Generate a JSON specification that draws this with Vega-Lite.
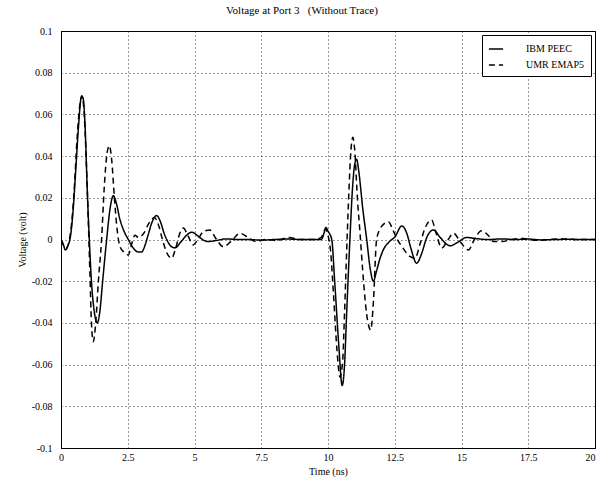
{
  "$schema": "https://vega.github.io/schema/vega-lite/v6.json",
  "width": 534,
  "height": 417,
  "autosize": {"type": "none"},
  "padding": {"left": 61, "top": 31, "right": 3, "bottom": 30},
  "background": "white",
  "title": {"text": "Voltage at Port 3\u00a0\u00a0\u00a0(Without Trace)", "font": "Liberation Serif", "fontSize": 11, "fontWeight": "normal", "color": "black", "offset": 10, "dx": -26},
  "datasets": {
    "peec": [
      {"t": 0, "v": 0}, {"t": 0.08, "v": -0.002}, {"t": 0.16, "v": -0.005}, {"t": 0.26, "v": -0.003}, {"t": 0.36, "v": 0.002},
      {"t": 0.46, "v": 0.015}, {"t": 0.56, "v": 0.035}, {"t": 0.66, "v": 0.055}, {"t": 0.76, "v": 0.068}, {"t": 0.82, "v": 0.068},
      {"t": 0.9, "v": 0.055}, {"t": 0.98, "v": 0.025}, {"t": 1.06, "v": 0}, {"t": 1.14, "v": -0.02}, {"t": 1.24, "v": -0.034},
      {"t": 1.36, "v": -0.04}, {"t": 1.46, "v": -0.034}, {"t": 1.56, "v": -0.02}, {"t": 1.71, "v": 0}, {"t": 1.84, "v": 0.015},
      {"t": 1.96, "v": 0.021}, {"t": 2.08, "v": 0.017}, {"t": 2.2, "v": 0.01}, {"t": 2.36, "v": 0.004}, {"t": 2.52, "v": 0},
      {"t": 2.7, "v": -0.004}, {"t": 2.9, "v": -0.006}, {"t": 3.02, "v": -0.006}, {"t": 3.14, "v": -0.003}, {"t": 3.26, "v": 0.002},
      {"t": 3.4, "v": 0.008}, {"t": 3.58, "v": 0.0115}, {"t": 3.74, "v": 0.008}, {"t": 3.86, "v": 0.003}, {"t": 3.96, "v": 0},
      {"t": 4.1, "v": -0.003}, {"t": 4.27, "v": -0.004}, {"t": 4.5, "v": -0.001}, {"t": 4.7, "v": 0.002}, {"t": 4.9, "v": 0.0035},
      {"t": 5.1, "v": 0.002}, {"t": 5.3, "v": 0}, {"t": 5.5, "v": -0.001}, {"t": 5.8, "v": -0.0005}, {"t": 6.2, "v": 0.0003},
      {"t": 6.6, "v": 0}, {"t": 7.0, "v": 0}, {"t": 7.5, "v": -0.0003}, {"t": 8, "v": 0}, {"t": 8.5, "v": 0.0002},
      {"t": 9, "v": 0}, {"t": 9.5, "v": 0}, {"t": 9.75, "v": 0}, {"t": 9.85, "v": 0.003}, {"t": 9.92, "v": 0.0058},
      {"t": 10.0, "v": 0.004}, {"t": 10.14, "v": 0}, {"t": 10.25, "v": -0.02}, {"t": 10.4, "v": -0.05}, {"t": 10.53, "v": -0.07},
      {"t": 10.62, "v": -0.06}, {"t": 10.7, "v": -0.035}, {"t": 10.82, "v": 0}, {"t": 10.92, "v": 0.025}, {"t": 11.0, "v": 0.036},
      {"t": 11.07, "v": 0.0385}, {"t": 11.15, "v": 0.033}, {"t": 11.3, "v": 0.015}, {"t": 11.45, "v": 0}, {"t": 11.58, "v": -0.014},
      {"t": 11.7, "v": -0.02}, {"t": 11.82, "v": -0.015}, {"t": 11.95, "v": -0.009}, {"t": 12.07, "v": -0.005}, {"t": 12.3, "v": -0.001},
      {"t": 12.51, "v": 0.0013}, {"t": 12.76, "v": 0.0065}, {"t": 12.95, "v": 0.003}, {"t": 13.1, "v": -0.004}, {"t": 13.32, "v": -0.0114},
      {"t": 13.5, "v": -0.007}, {"t": 13.7, "v": 0.001}, {"t": 13.95, "v": 0.0046}, {"t": 14.2, "v": 0.001}, {"t": 14.57, "v": -0.003},
      {"t": 14.9, "v": -0.001}, {"t": 15.19, "v": 0.001}, {"t": 15.5, "v": 0.0005}, {"t": 16, "v": 0}, {"t": 16.5, "v": 0.0003},
      {"t": 17, "v": 0}, {"t": 17.5, "v": 0.0002}, {"t": 18, "v": -0.0002}, {"t": 18.5, "v": 0}, {"t": 19, "v": 0.0001},
      {"t": 19.5, "v": 0}, {"t": 20, "v": 0}
    ],
    "emap": [
      {"t": 0, "v": 0}, {"t": 0.1, "v": -0.003}, {"t": 0.2, "v": -0.004}, {"t": 0.3, "v": -0.001}, {"t": 0.4, "v": 0.008},
      {"t": 0.5, "v": 0.025}, {"t": 0.6, "v": 0.048}, {"t": 0.7, "v": 0.064}, {"t": 0.78, "v": 0.069}, {"t": 0.86, "v": 0.062},
      {"t": 0.94, "v": 0.04}, {"t": 1.02, "v": 0.01}, {"t": 1.08, "v": -0.015}, {"t": 1.14, "v": -0.04}, {"t": 1.21, "v": -0.049},
      {"t": 1.3, "v": -0.04}, {"t": 1.4, "v": -0.02}, {"t": 1.52, "v": 0}, {"t": 1.62, "v": 0.025}, {"t": 1.72, "v": 0.041},
      {"t": 1.81, "v": 0.045}, {"t": 1.9, "v": 0.038}, {"t": 2.0, "v": 0.02}, {"t": 2.1, "v": 0.005}, {"t": 2.2, "v": -0.003},
      {"t": 2.35, "v": -0.006}, {"t": 2.52, "v": -0.0074}, {"t": 2.65, "v": -0.002}, {"t": 2.77, "v": 0.002}, {"t": 2.9, "v": 0.001},
      {"t": 3.1, "v": 0.003}, {"t": 3.3, "v": 0.008}, {"t": 3.5, "v": 0.0105}, {"t": 3.65, "v": 0.007}, {"t": 3.8, "v": 0},
      {"t": 3.95, "v": -0.006}, {"t": 4.14, "v": -0.009}, {"t": 4.3, "v": -0.004}, {"t": 4.45, "v": 0.003}, {"t": 4.58, "v": 0.0055},
      {"t": 4.75, "v": 0.002}, {"t": 4.95, "v": -0.0026}, {"t": 5.15, "v": 0.0005}, {"t": 5.35, "v": 0.004}, {"t": 5.58, "v": 0.0045},
      {"t": 5.8, "v": 0.0005}, {"t": 6.08, "v": -0.0035}, {"t": 6.4, "v": -0.0005}, {"t": 6.7, "v": 0.003}, {"t": 7.0, "v": 0.001},
      {"t": 7.3, "v": -0.001}, {"t": 7.7, "v": 0}, {"t": 8.1, "v": -0.0005}, {"t": 8.5, "v": 0.001}, {"t": 9.0, "v": 0},
      {"t": 9.5, "v": 0}, {"t": 9.75, "v": 0.001}, {"t": 9.85, "v": 0.004}, {"t": 9.92, "v": 0.005}, {"t": 10.0, "v": 0.002},
      {"t": 10.1, "v": -0.006}, {"t": 10.2, "v": -0.025}, {"t": 10.33, "v": -0.052}, {"t": 10.45, "v": -0.066}, {"t": 10.55, "v": -0.058},
      {"t": 10.62, "v": -0.035}, {"t": 10.7, "v": -0.005}, {"t": 10.78, "v": 0.022}, {"t": 10.86, "v": 0.043}, {"t": 10.93, "v": 0.049},
      {"t": 11.0, "v": 0.043}, {"t": 11.1, "v": 0.02}, {"t": 11.2, "v": 0.003}, {"t": 11.3, "v": -0.015}, {"t": 11.45, "v": -0.036},
      {"t": 11.6, "v": -0.0434}, {"t": 11.7, "v": -0.03}, {"t": 11.82, "v": 0}, {"t": 11.95, "v": 0.005}, {"t": 12.1, "v": 0.0075},
      {"t": 12.26, "v": 0.0085}, {"t": 12.45, "v": 0.004}, {"t": 12.6, "v": 0}, {"t": 12.8, "v": -0.004}, {"t": 13.05, "v": -0.008},
      {"t": 13.26, "v": -0.009}, {"t": 13.45, "v": -0.002}, {"t": 13.65, "v": 0.006}, {"t": 13.88, "v": 0.0094}, {"t": 14.05, "v": 0.003},
      {"t": 14.26, "v": -0.0041}, {"t": 14.5, "v": 0}, {"t": 14.7, "v": 0.003}, {"t": 14.95, "v": -0.001}, {"t": 15.26, "v": -0.005},
      {"t": 15.5, "v": 0.0005}, {"t": 15.75, "v": 0.0042}, {"t": 16.0, "v": 0.002}, {"t": 16.2, "v": -0.001}, {"t": 16.5, "v": -0.001},
      {"t": 16.9, "v": 0}, {"t": 17.3, "v": 0.0005}, {"t": 17.8, "v": -0.0004}, {"t": 18.3, "v": 0}, {"t": 18.8, "v": 0.0003},
      {"t": 19.4, "v": 0}, {"t": 20, "v": 0}
    ]
  },
  "layer": [
    {
      "data": {"name": "peec"},
      "transform": [{"calculate": "'IBM PEEC'", "as": "series"}],
      "mark": {"type": "line", "color": "black", "strokeWidth": 1.5, "interpolate": "monotone", "clip": true},
      "encoding": {
        "x": {"field": "t", "type": "quantitative"},
        "y": {"field": "v", "type": "quantitative"},
        "strokeDash": {"field": "series", "type": "nominal"}
      }
    },
    {
      "data": {"name": "emap"},
      "transform": [{"calculate": "'UMR EMAP5'", "as": "series"}],
      "mark": {"type": "line", "color": "black", "strokeWidth": 1.5, "interpolate": "monotone", "clip": true},
      "encoding": {
        "x": {"field": "t", "type": "quantitative"},
        "y": {"field": "v", "type": "quantitative"},
        "strokeDash": {"field": "series", "type": "nominal"}
      }
    }
  ],
  "encoding": {
    "x": {
      "field": "t", "type": "quantitative",
      "scale": {"domain": [0, 20], "nice": false, "zero": false},
      "axis": {"title": "Time (ns)", "values": [0, 2.5, 5, 7.5, 10, 12.5, 15, 17.5, 20], "labelExpr": "toString(datum.value)", "labelPadding": 4, "titlePadding": 4, "labelOverlap": false, "labelFlush": false,
        "labelAlign": {"condition": {"test": "datum.value == 20", "value": "right"}, "value": "center"}}
    },
    "y": {
      "field": "v", "type": "quantitative",
      "scale": {"domain": [-0.1, 0.1], "nice": false},
      "axis": {"title": "Voltage (volt)", "values": [-0.1, -0.08, -0.06, -0.04, -0.02, 0, 0.02, 0.04, 0.06, 0.08, 0.1], "labelExpr": "toString(datum.value)", "labelPadding": 9, "titlePadding": 4, "labelOverlap": false}
    },
    "strokeDash": {
      "field": "series", "type": "nominal",
      "scale": {"domain": ["IBM PEEC", "UMR EMAP5"], "range": [[1, 0], [6, 4]]},
      "legend": {
        "title": null, "orient": "top-right", "offset": 4,
        "strokeColor": "black", "fillColor": "white", "padding": 6,
        "symbolType": "stroke", "symbolStrokeColor": "black", "symbolStrokeWidth": 1.5, "symbolSize": 200,
        "labelFont": "Liberation Serif", "labelFontSize": 10, "labelColor": "black", "labelOffset": 22, "rowPadding": 3
      }
    }
  },
  "config": {
    "view": {"stroke": "black", "strokeWidth": 1},
    "axis": {
      "labelFont": "Liberation Serif", "labelFontSize": 10, "labelColor": "black",
      "titleFont": "Liberation Serif", "titleFontSize": 10, "titleFontWeight": "normal", "titleColor": "black",
      "domainColor": "black", "ticks": false,
      "grid": true, "gridColor": "black", "gridDash": [1, 3], "gridOpacity": 0.8, "gridWidth": 1
    }
  }
}
